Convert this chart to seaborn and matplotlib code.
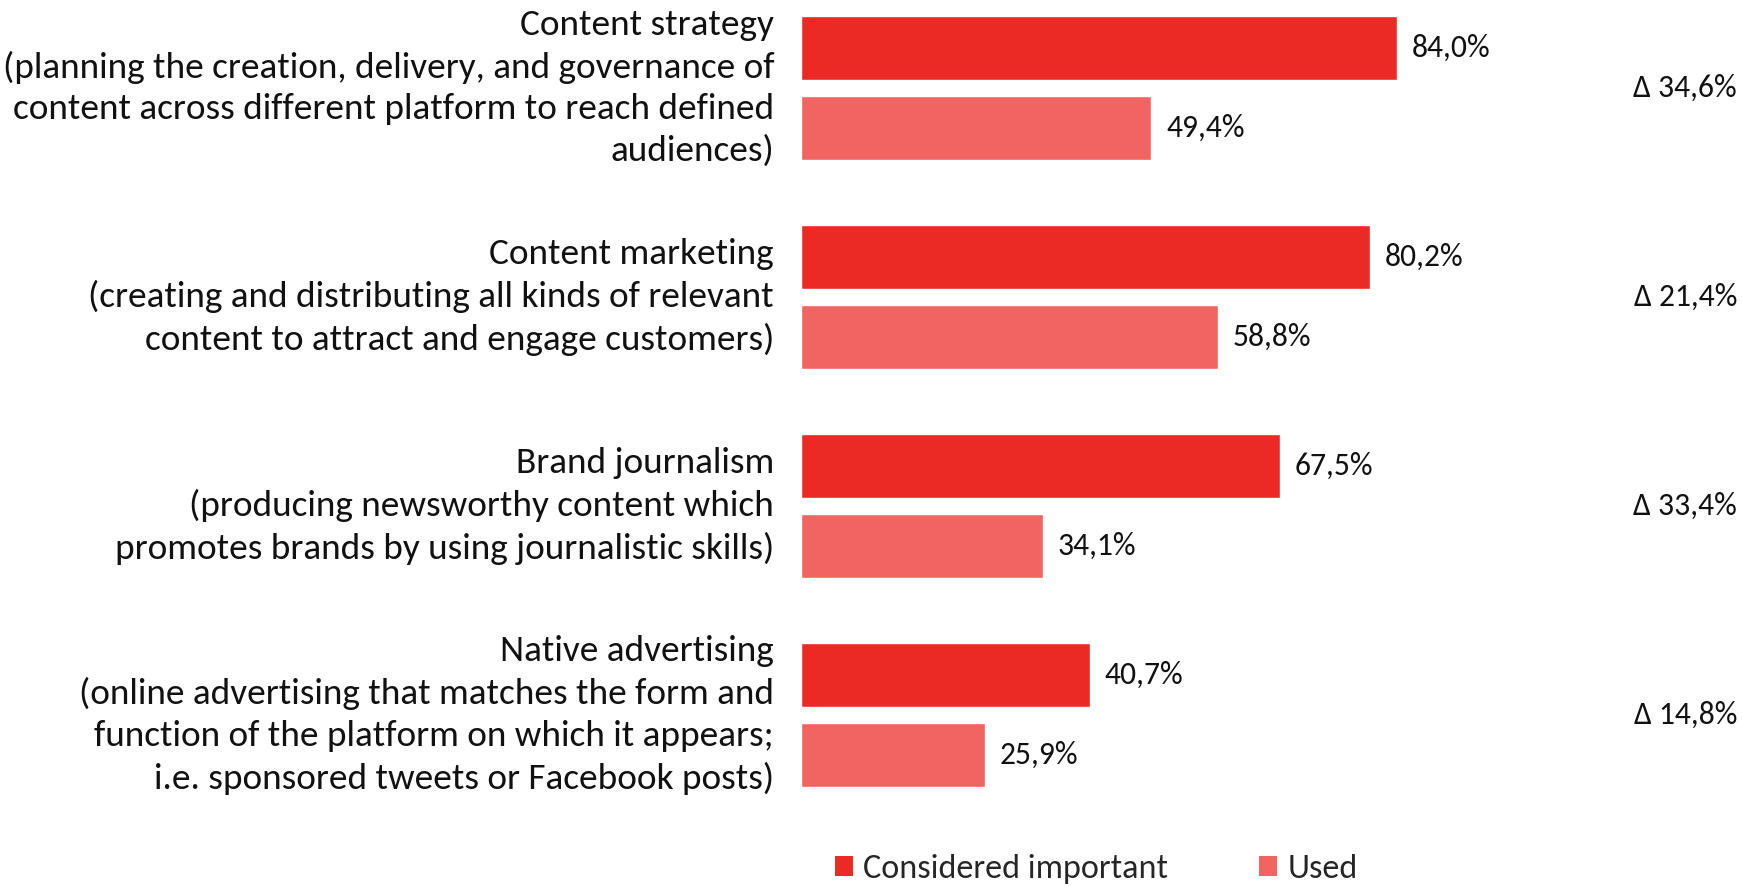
import matplotlib
matplotlib.use("Agg")
import matplotlib.pyplot as plt
from matplotlib.patches import Patch
import seaborn as sns
import pandas as pd

categories = [
    "Content strategy\n(planning the creation, delivery, and governance of\ncontent across different platform to reach defined\naudiences)",
    "Content marketing\n(creating and distributing all kinds of relevant\ncontent to attract and engage customers)",
    "Brand journalism\n(producing newsworthy content which\npromotes brands by using journalistic skills)",
    "Native advertising\n(online advertising that matches the form and\nfunction of the platform on which it appears;\ni.e. sponsored tweets or Facebook posts)",
]
series_names = ["Considered important", "Used"]
important = [84.0, 80.2, 67.5, 40.7]
used = [49.4, 58.8, 34.1, 25.9]
colors = ["#EB2A25", "#F16461"]

sns.set_theme(style="white")
plt.rcParams["font.family"] = ["Carlito", "Lato", "DejaVu Sans"]

rows = []
for cat, a, b in zip(categories, important, used):
    rows.append({"category": cat, "series": series_names[0], "value": a})
    rows.append({"category": cat, "series": series_names[1], "value": b})
df = pd.DataFrame(rows)

W, H = 1742, 886
fig = plt.figure(figsize=(W / 100, H / 100), dpi=100)
ax = fig.add_axes([801 / W, 86 / H, 709 / W, 800 / H])

sns.barplot(data=df, y="category", x="value", hue="series", orient="h",
            palette=colors, width=0.766, gap=0.2, ax=ax, legend=False,
            saturation=1)

ax.set_xlim(0, 100)
ax.set_ylim((800 - 88) / 209, -88 / 209)
ax.set_xlabel("")
ax.set_ylabel("")
ax.set_xticks([])
ax.set_yticks([])
for s in ax.spines.values():
    s.set_visible(False)

cat_fs = 26.8
val_fs = 22.8
leg_fs = 24.6
ink = "#111111"

# value labels just past the end of each bar
for cont in ax.containers:
    for bar in cont:
        v = bar.get_width()
        ax.text(v + 2.1, bar.get_y() + bar.get_height() / 2,
                f"{v:.1f}%".replace(".", ","), va="center", ha="left",
                fontsize=val_fs, color=ink)

# category descriptions on the left, gap between the two series on the right
for i, (cat, a, b) in enumerate(zip(categories, important, used)):
    ax.text(-3.8, i, cat, ha="right", va="center", fontsize=cat_fs,
            linespacing=1.36, color=ink)
    ax.annotate(f"Δ {a - b:.1f}%".replace(".", ","),
                xy=(1737 / W, 0), xycoords=("figure fraction", "data"),
                xytext=(0, i), textcoords=("offset points", "data"),
                ha="right", va="center", fontsize=val_fs, color=ink)

handles = [Patch(facecolor=c, edgecolor="none") for c in colors]
fig.legend(handles, series_names, loc="center left", ncol=2,
           bbox_to_anchor=(835 / W, 1 - 869 / H), frameon=False,
           fontsize=leg_fs, handlelength=0.53, handleheight=0.53,
           handletextpad=0.3, columnspacing=2.65, borderaxespad=0,
           borderpad=0)

fig.savefig("out.png", dpi=100)
